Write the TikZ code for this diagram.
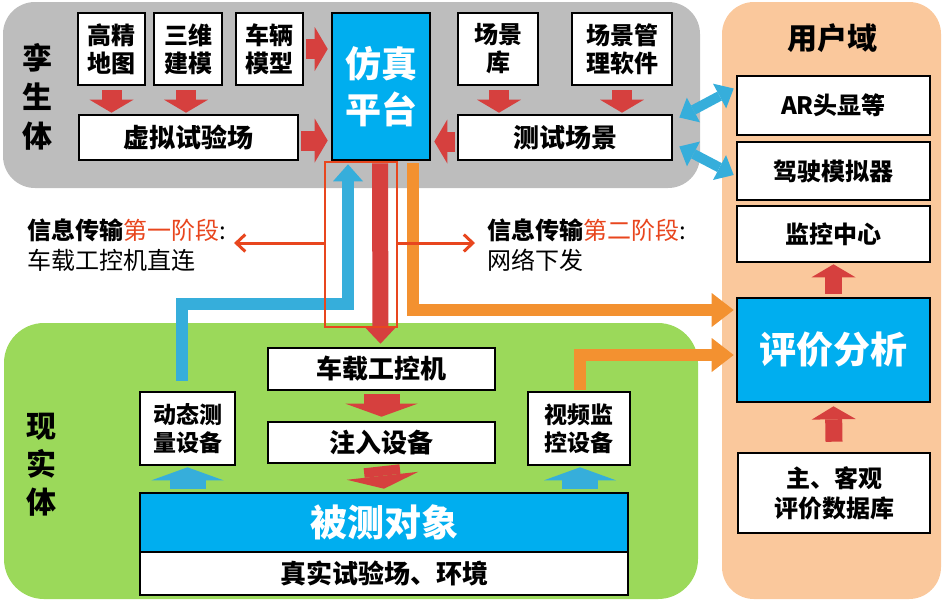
\documentclass[tikz,border=0pt]{standalone}
\usepackage{fontspec}
\setmainfont{Noto Sans CJK SC}
\usetikzlibrary{arrows.meta,calc}
\definecolor{panelgray}{HTML}{BDBDBD}
\definecolor{panelgreen}{HTML}{9BD95A}
\definecolor{panelorange}{HTML}{FAC89C}
\definecolor{boxblue}{HTML}{00AEEF}
\definecolor{arrred}{HTML}{D6403E}
\definecolor{arrblue}{HTML}{36AEDB}
\definecolor{arrorange}{HTML}{F39130}
\definecolor{hlred}{HTML}{E8461E}
\begin{document}
\begin{tikzpicture}[x=1pt,y=-1pt,
  wbox/.style={draw=black,line width=2.6pt,fill=white,inner sep=0pt,align=center,font=\fontsize{24}{28}\selectfont\bfseries},
  bbox/.style={wbox,fill=boxblue,text=white},
  panel/.style={rounded corners=32pt,draw=none},
  redsm/.style={draw=arrred,line width=20pt,-{Triangle[width=44pt,length=13pt,line width=0pt]}},
  redwide/.style={draw=arrred,line width=36pt,-{Triangle[width=72pt,length=13pt,line width=0pt]}},
  bluewide/.style={draw=arrblue,line width=36pt,-{Triangle[width=72pt,length=13pt,line width=0pt]}},
  bluedbl/.style={draw=arrblue,line width=10pt,{Triangle[width=28pt,length=16pt,line width=0pt]}-{Triangle[width=28pt,length=16pt,line width=0pt]}},
  redlong/.style={draw=arrred,line width=16pt,-{Triangle[width=32pt,length=17pt,line width=0pt]}},
  blueline/.style={draw=arrblue,line width=12pt,line join=miter,-{Triangle[width=30pt,length=17pt,line width=0pt]}},
  orangeline/.style={draw=arrorange,line width=12pt,line join=miter,-{Triangle[width=34pt,length=22pt,line width=0pt]}},
  hlarrow/.style={draw=hlred,line width=3pt,-{Straight Barb[length=9pt,width=17pt,line width=3pt]}},
  title/.style={font=\fontsize{30}{39}\selectfont\bfseries,align=center,inner sep=0pt},
  info/.style={anchor=west,align=left,inner sep=0pt,font=\fontsize{24}{30}\selectfont},
  big/.style={font=\fontsize{26}{28}\selectfont\bfseries}
]
\useasboundingbox (0,0) rectangle (944,606);
% panels
\fill[panel,panelgray] (3,2) rectangle (700,188);
\fill[panel,panelgreen,rounded corners=40pt] (4,323) rectangle (698,599);
\fill[panel,panelorange] (722,2) rectangle (941,599);

% titles
\node[title] (tws) at (37,97) {孪\\生\\体};
\node[title,font=\fontsize{30}{38}\selectfont\bfseries] (tsx) at (42,465) {现\\实\\体};
\node[title] (tyh) at (832,38) {用户域};

% top boxes
\node[wbox,minimum width=67pt,minimum height=72pt] (hd) at (111.5,49) {高精\\地图};
\node[wbox,minimum width=68pt,minimum height=72pt] (sw) at (188,49) {三维\\建模};
\node[wbox,minimum width=67pt,minimum height=72pt] (cl) at (269.5,49) {车辆\\模型};
\node[wbox,big,minimum width=219pt,minimum height=45pt] (vt) at (188.5,137.5) {虚拟试验场};
\node[bbox,minimum width=98pt,minimum height=147pt,font=\fontsize{36}{46}\selectfont\bfseries] (fz) at (381,86.5) {仿真\\平台};
\node[wbox,minimum width=80pt,minimum height=72pt] (cjk) at (498,49) {场景\\库};
\node[wbox,minimum width=100pt,minimum height=72pt] (cjgl) at (622,49) {场景管\\理软件};
\node[wbox,big,minimum width=214pt,minimum height=45pt] (cs) at (565,137.5) {测试场景};

% user domain boxes
\node[wbox,minimum width=193pt,minimum height=59pt] (ar) at (833.5,105.5) {AR头显等};
\node[wbox,minimum width=193pt,minimum height=58pt] (jm) at (833.5,171) {驾驶模拟器};
\node[wbox,minimum width=193pt,minimum height=56pt] (jk) at (833.5,234) {监控中心};
\node[bbox,minimum width=193pt,minimum height=104pt,font=\fontsize{37}{40}\selectfont\bfseries] (pj) at (833.5,350) {评价分析};
\node[wbox,minimum width=192pt,minimum height=80pt,font=\fontsize{24}{30}\selectfont\bfseries] (db) at (834,493) {主、客观\\评价数据库};

% real body boxes
\node[wbox,big,minimum width=227pt,minimum height=42pt] (gk) at (381.5,369) {车载工控机};
\node[wbox,big,minimum width=227pt,minimum height=41pt] (zr) at (381.5,442.5) {注入设备};
\node[bbox,minimum width=488pt,minimum height=59pt,font=\fontsize{37}{40}\selectfont\bfseries] (bc) at (384,522.5) {被测对象};
\node[wbox,big,minimum width=488pt,minimum height=43pt] (zs) at (384,573.5) {真实试验场、环境};
\node[wbox,minimum width=95pt,minimum height=73pt,font=\fontsize{23}{28}\selectfont\bfseries] (dt) at (187.5,428.5) {动态测\\量设备};
\node[wbox,minimum width=102pt,minimum height=73pt,font=\fontsize{23}{28}\selectfont\bfseries] (sp) at (579,428.5) {视频监\\控设备};

% info texts
\node[info] (info1) at (27,245) {\textbf{信息传输}\textcolor{hlred}{第一阶段}:\\车载工控机直连};
\node[info] (info2) at (487,245) {\textbf{信息传输}\textcolor{hlred}{第二阶段}:\\网络下发};

% top red arrows
\draw[redsm] ($(hd.south)+(0,4)$) -- ($(hd.south |- vt.north)+(0,-1)$);
\draw[redsm] ($(sw.south)+(-2,4)$) -- ($(sw.south |- vt.north)+(-2,-1)$);
\draw[redsm] ($(cjk.south)+(1,4)$) -- ($(cjk.south |- cs.north)+(1,-1)$);
\draw[redsm] ($(cjgl.south)+(0,4)$) -- ($(cjgl.south |- cs.north)+(0,-1)$);
\draw[redsm] ($(cl.east)+(2,0)$) -- ($(cl.east -| fz.west)+(-3,0)$);
\draw[redsm] ($(vt.east)+(2,3)$) -- ($(vt.east -| fz.west)+(-3,3)$);
\draw[redsm] ($(cs.west)+(-2,4)$) -- ($(cs.west -| fz.east)+(3,4)$);

% blue double arrows
\draw[bluedbl] ($(cs.east)+(6,-20)$) -- ($(ar.west)+(-2,-17)$);
\draw[bluedbl] ($(cs.east)+(6,9)$) -- ($(jm.west)+(-2,4)$);

% user domain red arrows
\draw[redsm,line width=17pt] ($(pj.north)+(0,-3)$) -- ($(jk.south)+(0,1)$);
\draw[redsm,line width=17pt] ($(db.north)+(0,-10)$) -- ($(pj.south)+(0,3)$);

% real body arrows
\draw[redwide] ($(gk.south)+(0,3)$) -- ($(zr.north)+(0,-4)$);
\draw[redwide] ($(zr.south)+(0,2)$) -- ($(bc.north)+(0,-3)$);
\draw[bluewide] ($(bc.north -| dt.south)+(0,-3)$) -- ($(dt.south)+(0,1)$);
\draw[bluewide] ($(bc.north -| sp.south)+(1,-3)$) -- ($(sp.south)+(1,1)$);

% transmission lines
\draw[blueline] ($(dt.north)+(-6,-10)$) |- (348,304) -- ($(fz.south)+(-33,3)$);
\draw[orangeline] ($(fz.south)+(32,2)$) |- ($(pj.west)+(-2,-40)$);
\draw[orangeline] ($(sp.north)+(1,-1)$) |- ($(pj.west)+(-2,5)$);
\draw[redlong] ($(fz.south)+(-1,2)$) -- ($(gk.north)+(-1,-3)$);

% highlight frame
\draw[hlred,line width=2pt] (325,162) rectangle (397,327);
\coordinate (hlL) at (325,243);
\coordinate (hlR) at (397,243);
\draw[hlarrow] (hlL) -- ($(info1.east |- hlL)+(8,0)$);
\draw[hlarrow] (hlR) -- ($(info2.west |- hlR)+(-12,0)$);
\end{tikzpicture}
\end{document}
